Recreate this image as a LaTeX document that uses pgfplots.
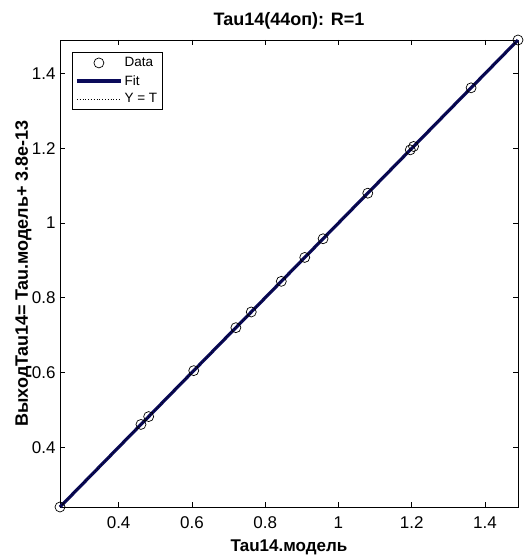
\documentclass[border=0pt]{standalone}
\usepackage{fontspec}
\setmainfont{Liberation Sans}
\usepackage{pgfplots}
\pgfplotsset{compat=1.18}

\definecolor{fitnavy}{RGB}{10,10,90}

\pgfplotsset{
  widelegend/.style={legend image code/.code={%
    \draw[mark repeat=2, mark phase=2, ##1] plot coordinates {(0pt,0pt) (22pt,0pt) (44pt,0pt)};}},
  marklegend/.style={legend image code/.code={%
    \path (0pt,0pt) -- (44pt,0pt);
    \path[##1] plot coordinates {(22pt,0pt)};}},
}

\begin{document}
\begin{tikzpicture}
\useasboundingbox (-60pt,-48pt) rectangle (470pt,507pt);
\begin{axis}[
  scale only axis,
  width=458pt, height=467pt,
  xmin=0.24, xmax=1.49,
  ymin=0.24, ymax=1.49,
  xtick={0.4,0.6,0.8,1,1.2,1.4},
  ytick={0.4,0.6,0.8,1,1.2,1.4},
  tick align=inside,
  major tick length=5pt,
  tick style={black, line width=0.6pt},
  axis line style={black, line width=0.8pt},
  /pgf/number format/assume math mode=true,
  ticklabel style={font=\fontsize{17}{19}\selectfont},
  xticklabel style={anchor=base, yshift=-21pt},
  yticklabel style={xshift=-1pt},
  title={Tau14(44оп): R=1},
  title style={font=\bfseries\fontsize{18}{21}\selectfont,
    at={(axis description cs:0.5,1)}, anchor=base, yshift=8pt},
  xlabel={Tau14.модель},
  ylabel={ВыходTau14= Tau.модель+ 3.8e-13},
  xlabel style={font=\bfseries\fontsize{17}{20}\selectfont,
    at={(axis description cs:0.5,0)}, anchor=base, yshift=-44pt},
  ylabel style={font=\bfseries\fontsize{18}{21}\selectfont,
    at={(axis description cs:-0.07,0.5)}, anchor=base},
  legend cell align={left},
  legend style={at={(0.026,0.974)}, anchor=north west, draw=black,
    line width=0.8pt, font=\fontsize{13.5}{16}\selectfont,
    row sep=3pt, inner xsep=3pt, inner ysep=3pt},
  widelegend,
  clip=false,
]
\addplot [draw=none, mark=o, mark size=5pt, mark options={draw=black, line width=0.7pt}, marklegend]
table {%
0.240 0.240
0.461 0.461
0.482 0.482
0.605 0.605
0.720 0.720
0.762 0.762
0.844 0.844
0.908 0.908
0.958 0.958
1.080 1.080
1.196 1.196
1.205 1.205
1.362 1.362
1.490 1.490
};
\addlegendentry{Data}
\addplot [fitnavy, line width=3.2pt]
table {%
0.240 0.240
1.490 1.490
};
\addlegendentry{Fit}
\addplot [black, dotted, line width=0.8pt]
table {%
0.240 0.240
1.490 1.490
};
\addlegendentry{Y = T}
\end{axis}
\end{tikzpicture}
\end{document}
